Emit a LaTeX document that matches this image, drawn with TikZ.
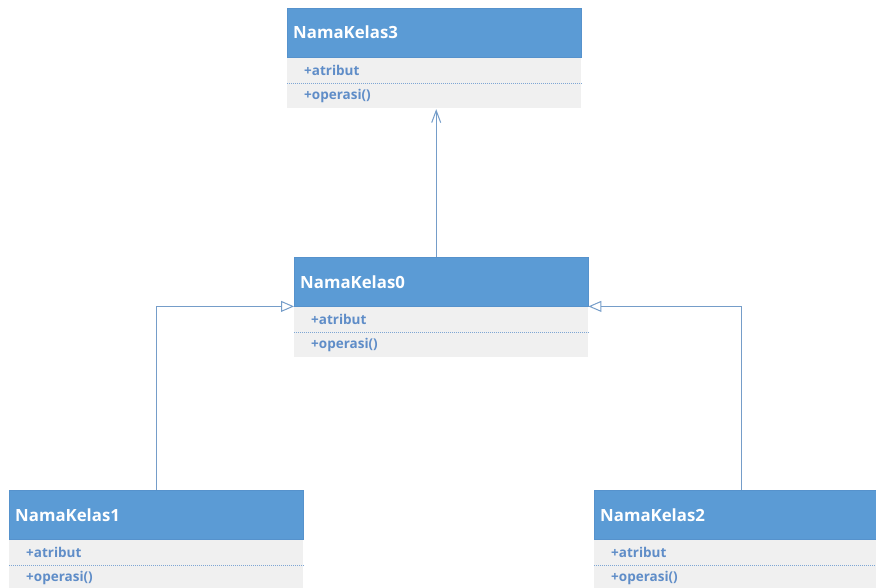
\documentclass[tikz,border=0pt]{standalone}
\usepackage{fontspec}
\setmainfont{Open Sans}
\usetikzlibrary{arrows.meta}
\definecolor{hdrfill}{HTML}{5B9BD5}
\definecolor{hdrline}{HTML}{5692CC}
\definecolor{rowfill}{HTML}{F0F0F0}
\definecolor{rowtext}{HTML}{5F8DC8}
\definecolor{sepline}{HTML}{7EA6D4}
\definecolor{connline}{HTML}{759DC9}
\begin{document}
\begin{tikzpicture}[x=1pt,y=-1pt,
  header/.style={draw=hdrline, fill=hdrfill, anchor=north west,
    minimum height=49pt, text width=282pt, inner xsep=6pt, inner ysep=0pt,
    align=left, text=white, font=\bfseries\fontsize{16.8}{18}\selectfont},
  row/.style={anchor=north west, minimum height=25.5pt,
    text width=260pt, inner xsep=17pt, inner ysep=0pt,
    align=left, text=rowtext, font=\bfseries\fontsize{13.5}{15}\selectfont},
  sep/.style={draw=sepline, line width=0.8pt, dash pattern=on 1pt off 1pt},
  conn/.style={draw=connline, line width=1pt},
  generalize/.style={conn, -{Triangle[open, length=13pt, width=11pt, fill=white]}},
  assoc/.style={conn, -{Straight Barb[length=12pt, width=9pt]}}
]
\useasboundingbox (0,0) rectangle (876,588);
\clip (0,0) rectangle (876,588);

% class box: header, attribute row, operation row
\newcommand{\umlclass}[3]{%
  \fill[rowfill] (#2) ++(0,49) rectangle ++(294,51);
  \node[header] (#1h) at (#2) {#3};
  \node[row] (#1a) at (#1h.south west) {+atribut};
  \node[row] (#1o) at (#1a.south west) {+operasi()};
  \draw[sep] (#1a.south west) -- (#1a.south east);
}

\umlclass{kthree}{287,8}{NamaKelas3}
\umlclass{kzero}{294,257}{NamaKelas0}
\umlclass{kone}{9,490}{NamaKelas1}
\umlclass{ktwo}{594,490}{NamaKelas2}

% association up to NamaKelas3
\draw[assoc] ([xshift=2pt]kzeroh.north -| kthreeo.south) -- ([xshift=2pt]kthreeo.south);
% generalizations into NamaKelas0
\draw[generalize] (koneh.north) |- (kzeroh.south west);
\draw[generalize] (ktwoh.north) |- (kzeroh.south east);
\end{tikzpicture}
\end{document}
